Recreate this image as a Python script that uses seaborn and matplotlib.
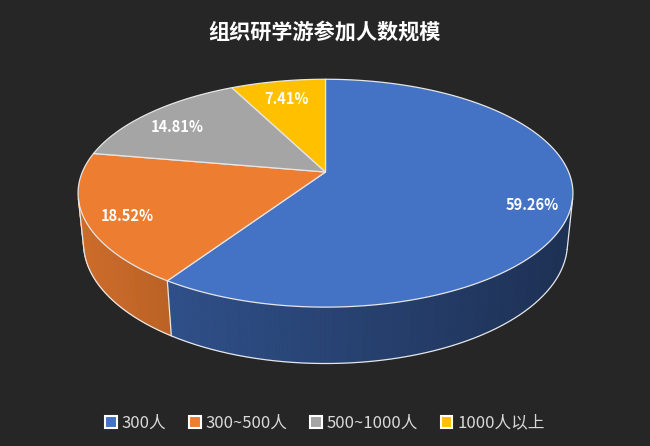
import numpy as np
import matplotlib
matplotlib.use("Agg")
import matplotlib.pyplot as plt
from matplotlib.patches import Polygon, Patch
from matplotlib.collections import PolyCollection
import seaborn as sns

# ---- data ----
categories = ["300人", "300~500人", "500~1000人", "1000人以上"]
counts = [16, 5, 4, 2]
slice_colors = ["#4472C4", "#ED7D31", "#A5A5A5", "#FFC000"]
title = "组织研学游参加人数规模"

BG = "#262626"
sns.set_theme(style="dark", rc={"figure.facecolor": BG, "axes.facecolor": BG})
plt.rcParams["font.family"] = ["Noto Sans CJK SC", "DejaVu Sans"]

fig = plt.figure(figsize=(6.5, 4.46), dpi=100)
ax = fig.add_axes([0, 0, 1, 1])
ax.set_xlim(0, 650)
ax.set_ylim(446, 0)
ax.axis("off")

# ---- perspective 3D pie projection ----
R, D, PHI, H, K = 1.0, 4.796, np.radians(26.9), 0.231, 1166.0
CX, CY = 325.5, 172.0

def proj(x, y, z):
    depth = D + y * np.cos(PHI) - z * np.sin(PHI)
    up = y * np.sin(PHI) + z * np.cos(PHI)
    return CX + K * x / depth, CY - K * up / depth

def rim(theta, z, r=R):
    return proj(r * np.sin(theta), r * np.cos(theta), z)

vals = np.array(counts, dtype=float)
fracs = vals / vals.sum()
bounds = np.concatenate([[0], np.cumsum(fracs)]) * 2 * np.pi  # clockwise from 12 o'clock

def shade(color, f):
    c = np.array(matplotlib.colors.to_rgb(color))
    return tuple(np.clip(c * f, 0, 1))

side_gain = [0.88, 1.0, 1.0, 1.0]

# visible side range: cos(theta) < -R/(D cos phi)
lim = np.arccos(-R / (D * np.cos(PHI)))
vis_lo, vis_hi = lim, 2 * np.pi - lim
edge_c = "#E6E6E6"

polys, cols = [], []
for i in range(len(counts)):
    a0, a1 = max(bounds[i], vis_lo), min(bounds[i + 1], vis_hi)
    if a1 <= a0:
        continue
    th = np.linspace(a0, a1, 150)
    for t0, t1 in zip(th[:-1], th[1:]):
        p = [rim(t0, 0), rim(t1, 0), rim(t1, -H), rim(t0, -H)]
        polys.append(p)
        xm = 0.5 * (p[0][0] + p[1][0])
        f = (0.86 - 0.00075 * (xm - 80)) * side_gain[i]
        cols.append(shade(slice_colors[i], f))
side = PolyCollection(polys, facecolors=cols, edgecolors=cols, linewidths=0.6)
ax.add_collection(side)

# side outline: bottom arc, silhouette lines, slice boundaries on side
thb = np.linspace(vis_lo, vis_hi, 400)
bx, by = rim(thb, -H)
ax.plot(bx, by, color=edge_c, lw=0.9)
for t in [vis_lo, vis_hi] + [b for b in bounds if vis_lo < b < vis_hi]:
    x0, y0 = rim(t, 0)
    x1, y1 = rim(t, -H)
    ax.plot([x0, x1], [y0, y1], color=edge_c, lw=0.9)

# top faces
cx0, cy0 = proj(0, 0, 0)
for i in range(len(counts)):
    th = np.linspace(bounds[i], bounds[i + 1], 200)
    xs, ys = rim(th, 0)
    pts = np.column_stack([np.concatenate([[cx0], xs]), np.concatenate([[cy0], ys])])
    ax.add_patch(Polygon(pts, closed=True, facecolor=slice_colors[i],
                         edgecolor=edge_c, lw=0.9, joinstyle="round"))

# data labels
for i in range(len(counts)):
    mid = 0.5 * (bounds[i] + bounds[i + 1])
    lx, ly = rim(mid, 0, r=0.84)
    ax.text(lx + 2, ly + 5, f"{fracs[i] * 100:.2f}%", color="white",
            fontsize=10.5, fontweight="bold", ha="center", va="center")

# title
fig.text(0.5, 1 - 32 / 446, title, color="white", fontsize=15.2,
         fontweight="bold", ha="center", va="center")

# legend
handles = [Patch(facecolor=c, edgecolor="white", linewidth=1.5) for c in slice_colors]
leg = fig.legend(handles, categories, loc="center", bbox_to_anchor=(0.5, 1 - 423 / 446),
                 ncol=4, frameon=False, fontsize=12, handlelength=0.7, handleheight=0.7,
                 handletextpad=0.3, columnspacing=1.35, labelcolor="#D9D9D9")

fig.savefig("out.png", dpi=100, facecolor=BG)
